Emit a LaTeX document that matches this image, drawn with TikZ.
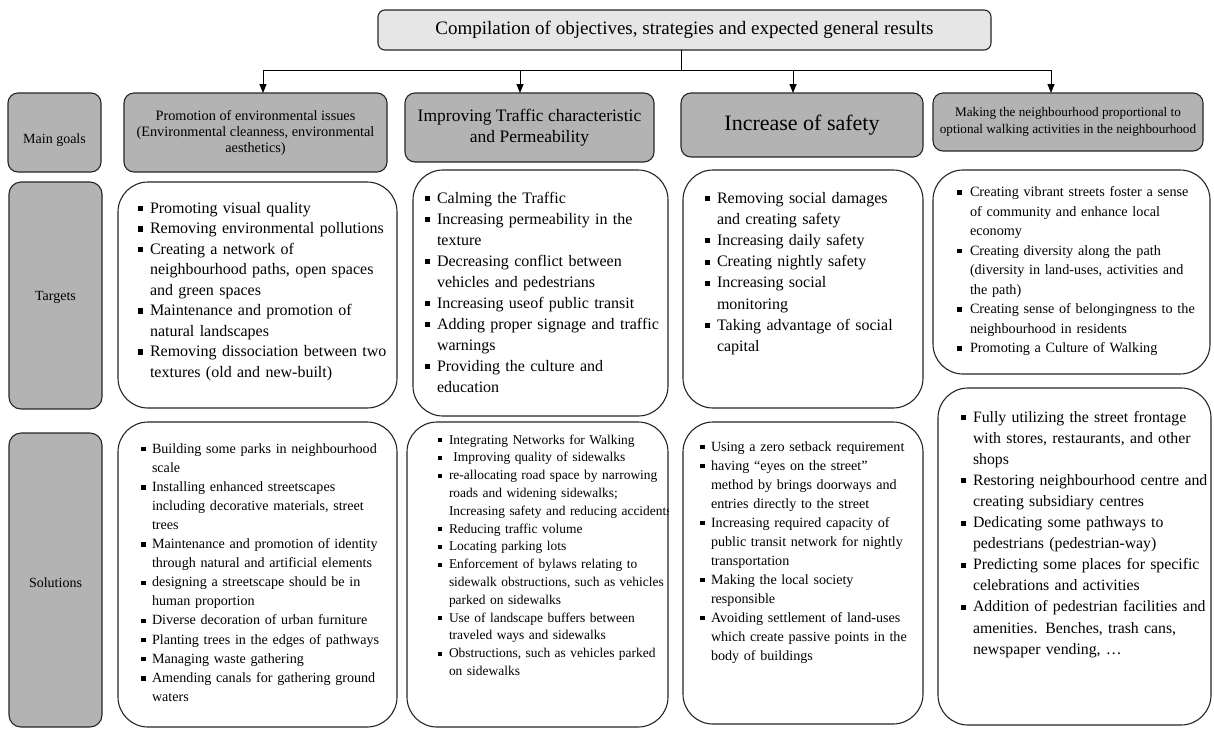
\documentclass[tikz,border=0pt]{standalone}
\usepackage{fontspec}
\setmainfont{Liberation Serif}
\usetikzlibrary{arrows.meta}
\newlength\itmgap
\newcommand\itmbody{\hangindent=\itmgap\hangafter=1\makebox[\itmgap][l]{\rule[0.12em]{0.32em}{0.32em}}\ignorespaces}
\newcommand\itm{\par\noindent\itmbody}
\newcommand\itmfirst{\noindent\itmbody}
\newcommand\fs[2]{\fontsize{#1}{#2}\selectfont}
\definecolor{goalgray}{HTML}{B3B3B3}
\definecolor{titlegray}{HTML}{E6E6E6}
\definecolor{edge}{HTML}{262626}
\begin{document}
\begin{tikzpicture}[x=1pt,y=-1pt,
  every node/.style={inner sep=0pt, outer sep=0pt},
  goalbox/.style={draw=edge, line width=1.1pt, fill=goalgray, rounded corners=10pt, align=center},
  titlebox/.style={draw=edge, line width=1.1pt, fill=titlegray, rounded corners=7pt, align=center},
  listbox/.style={draw=edge, line width=1.1pt, fill=white, rounded corners=30pt},
  listtext/.style={anchor=base west, text width=300pt, align=left},
  plain/.style={align=center},
  link/.style={draw=black, line width=1pt},
  arr/.style={link, -{Triangle[length=9pt,width=7pt]}}
]
\useasboundingbox (0,0) rectangle (1214,729);
\fill[white] (0,0) rectangle (1214,729);

% title
\node[titlebox, minimum width=613pt, minimum height=40pt, font=\fs{19}{22}] (title) at (684.5,30) {Compilation of objectives, strategies and expected general results};

% connectors
\coordinate (hub) at (681,70);
\coordinate (c1) at (263,70);
\coordinate (c2) at (520,70);
\coordinate (c3) at (793,70);
\coordinate (c4) at (1051,70);

% main goals row
\node[goalbox, minimum width=93pt, minimum height=79pt] (lgoal) at (54.5,132.5) {};
\node[plain, font=\fs{14}{17}] (lgoaltxt) at (54.5,140) {Main goals};
\node[goalbox, minimum width=263pt, minimum height=79pt, font=\fs{14.3}{16}] (g1) at (255.5,132.5) {Promotion of environmental issues\\(Environmental cleanness, environmental\\aesthetics)};
\node[goalbox, minimum width=249pt, minimum height=69pt, font=\fs{17.5}{20.5}] (g2) at (529.5,127.5) {Improving Traffic characteristic\\and Permeability};
\node[goalbox, minimum width=242pt, minimum height=64pt, font=\fs{22}{25}] (g3) at (802,125) {Increase of safety};
\node[goalbox, minimum width=270pt, minimum height=58pt, font=\fs{13.2}{17}] (g4) at (1068,122) {Making the neighbourhood proportional to\\optional walking activities in the neighbourhood};

\draw[link] (hub |- title.south) -- (hub);
\draw[link] (c1) -- (c4);
\draw[arr] (c1) -- (c1 |- g1.north);
\draw[arr] (c2) -- (c2 |- g2.north);
\draw[arr] (c3) -- (c3 |- g3.north);
\draw[arr] (c4) -- (c4 |- g4.north);

% targets row
\node[goalbox, rounded corners=12pt, minimum width=93pt, minimum height=227pt] (ltarget) at (55.5,295.5) {};
\node[plain, font=\fs{14}{17}] (ltargettxt) at (55.5,297) {Targets};
\node[listbox, minimum width=279pt, minimum height=226pt] (t1) at (257.5,295) {};
\node[listbox, minimum width=255pt, minimum height=246pt] (t2) at (540.5,293) {};
\node[listbox, minimum width=240pt, minimum height=238pt] (t3) at (803,289) {};
\node[listbox, minimum width=277pt, minimum height=204pt] (t4) at (1071.5,272) {};

\node[listtext, font=\fs{16}{20.5}] (t1txt) at (138,213) {\setlength\itmgap{12pt}%
\itmfirst Promoting visual quality
\itm Removing environmental pollutions
\itm Creating a network of\newline neighbourhood paths, open spaces\newline and green spaces
\itm Maintenance and promotion of\newline natural landscapes
\itm Removing dissociation between two\newline textures (old and new-built)\par};

\node[listtext, font=\fs{16}{21}] (t2txt) at (425,203) {\setlength\itmgap{12pt}%
\itmfirst Calming the Traffic
\itm Increasing permeability in the\newline texture
\itm Decreasing conflict between\newline vehicles and pedestrians
\itm Increasing useof public transit
\itm Adding proper signage and traffic\newline warnings
\itm Providing the culture and\newline education\par};

\node[listtext, font=\fs{16}{21.2}] (t3txt) at (705,203) {\setlength\itmgap{12pt}%
\itmfirst Removing social damages\newline and creating safety
\itm Increasing daily safety
\itm Creating nightly safety
\itm Increasing social\newline monitoring
\itm Taking advantage of social\newline capital\par};

\node[listtext, font=\fs{14.2}{19.5}] (t4txt) at (957,196.5) {\setlength\itmgap{13pt}%
\itmfirst Creating vibrant streets foster a sense\newline of community and enhance local\newline economy
\itm Creating diversity along the path\newline (diversity in land-uses, activities and\newline the path)
\itm Creating sense of belongingness to the\newline neighbourhood in residents
\itm Promoting a Culture of Walking\par};

% solutions row
\node[goalbox, rounded corners=12pt, minimum width=93pt, minimum height=294pt] (lsol) at (55.5,580) {};
\node[plain, font=\fs{14}{17}] (lsoltxt) at (55.5,583) {Solutions};
\node[listbox, minimum width=279pt, minimum height=305pt] (s1) at (257.5,574.5) {};
\node[listbox, minimum width=261pt, minimum height=305pt] (s2) at (537.5,574.5) {};
\node[listbox, minimum width=240pt, minimum height=302pt] (s3) at (803,573) {};
\node[listbox, minimum width=273pt, minimum height=337pt] (s4) at (1074.5,556.5) {};

\node[listtext, font=\fs{14.1}{19.1}] (s1txt) at (141,453) {\setlength\itmgap{11pt}%
\itmfirst Building some parks in neighbourhood\newline scale
\itm Installing enhanced streetscapes\newline including decorative materials, street\newline trees
\itm Maintenance and promotion of identity\newline through natural and artificial elements
\itm designing a streetscape should be in\newline human proportion
\itm Diverse decoration of urban furniture
\itm Planting trees in the edges of pathways
\itm Managing waste gathering
\itm Amending canals for gathering ground\newline waters\par};

\begin{scope}
\clip (400,420) rectangle (668,729);
\node[listtext, font=\fs{13.45}{17.8}] (s2txt) at (438,444) {\setlength\itmgap{11pt}%
\itmfirst Integrating Networks for Walking
\itm \ Improving quality of sidewalks
\itm re-allocating road space by narrowing\newline roads and widening sidewalks;\newline Increasing safety and reducing accidents
\itm Reducing traffic volume
\itm Locating parking lots
\itm Enforcement of bylaws relating to\newline sidewalk obstructions, such as vehicles\newline parked on sidewalks
\itm Use of landscape buffers between\newline traveled ways and sidewalks
\itm Obstructions, such as vehicles parked\newline on sidewalks\par};
\end{scope}

\node[listtext, font=\fs{14.1}{19}] (s3txt) at (700,451) {\setlength\itmgap{11pt}%
\itmfirst Using a zero setback requirement
\itm having “eyes on the street”\newline method by brings doorways and\newline entries directly to the street
\itm Increasing required capacity of\newline public transit network for nightly\newline transportation
\itm Making the local society\newline responsible
\itm Avoiding settlement of land-uses\newline which create passive points in the\newline body of buildings\par};

\node[listtext, font=\fs{15.8}{21.1}] (s4txt) at (961,422) {\setlength\itmgap{12pt}%
\itmfirst Fully utilizing the street frontage\newline with stores, restaurants, and other\newline shops
\itm Restoring neighbourhood centre and\newline creating subsidiary centres
\itm Dedicating some pathways to\newline pedestrians (pedestrian-way)
\itm Predicting some places for specific\newline celebrations and activities
\itm Addition of pedestrian facilities and\newline amenities. Benches, trash cans,\newline newspaper vending, …\par};

\end{tikzpicture}
\end{document}
